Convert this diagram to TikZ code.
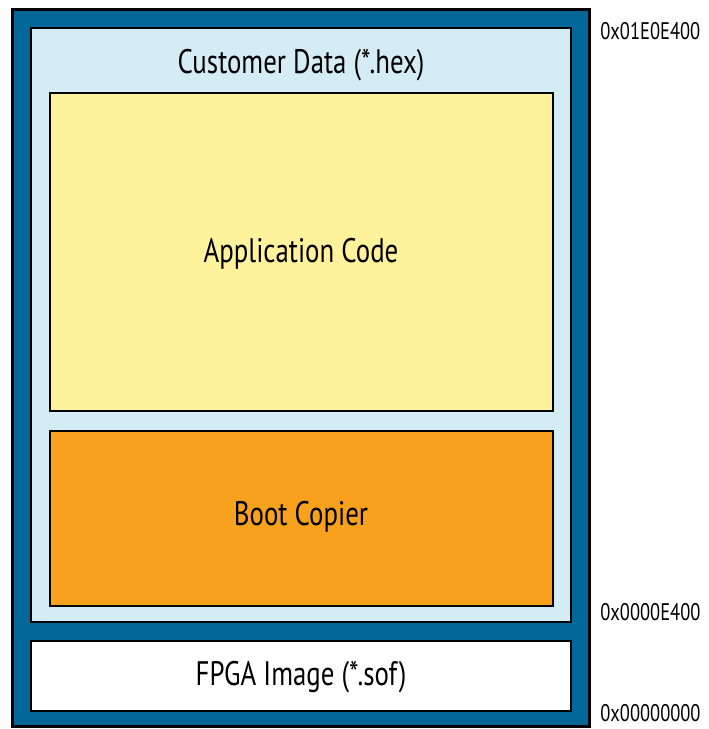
\documentclass[tikz,border=0pt]{standalone}
\usepackage{fontspec}
\setmainfont{PT Sans}[FakeStretch=0.79]
\newfontfamily\addrfont{PT Sans}[FakeStretch=0.77]
\definecolor{flashblue}{RGB}{3,103,153}
\definecolor{custblue}{RGB}{212,236,244}
\definecolor{appyellow}{RGB}{255,242,156}
\definecolor{bootorange}{RGB}{247,161,28}
\tikzset{
  region/.style={draw=black, line width=1pt},
  label/.style={font=\fontsize{17}{19}\selectfont, inner sep=0pt},
  addr/.style={font=\addrfont\fontsize{12}{14}\selectfont, anchor=west, inner sep=0pt}
}
\begin{document}
\begin{tikzpicture}[x=0.5pt, y=-0.5pt]
  % Canvas
  \useasboundingbox (0,0) rectangle (708,729);

  % Flash device
  \draw[flashblue, fill=flashblue, line width=1.5pt, draw=black] (12,9) rectangle (589,726);

  % Customer data area
  \draw[region, fill=custblue] (31,28) rectangle (571,622);
  \draw[region, fill=appyellow] (50,93) rectangle (553,411);
  \draw[region, fill=bootorange] (50,431) rectangle (553,606);

  % FPGA image area
  \draw[region, fill=white] (31,641) rectangle (571,711);

  % Labels
  \node[label] (cust) at (301,65) {Customer Data (*.hex)};
  \node[label] (app)  at (301,254) {Application Code};
  \node[label] (boot) at (301,517) {Boot Copier};
  \node[label] (fpga) at (301,677) {FPGA Image (*.sof)};

  % Addresses
  \node[addr] (top) at (600,31)  {0x01E0E400};
  \node[addr] (mid) at (600,612) {0x0000E400};
  \node[addr] (bot) at (600,713) {0x00000000};
\end{tikzpicture}
\end{document}
